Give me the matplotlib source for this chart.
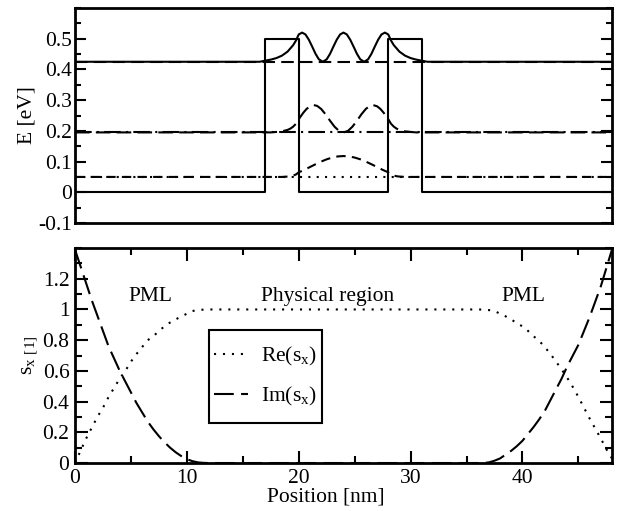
import matplotlib
matplotlib.use("Agg")
import matplotlib.pyplot as plt
from matplotlib.patches import Rectangle
from matplotlib.ticker import MultipleLocator, FormatStrFormatter

plt.rcParams["font.family"] = ["Liberation Serif", "DejaVu Serif"]
plt.rcParams["mathtext.fontset"] = "custom"
plt.rcParams["mathtext.rm"] = "Liberation Serif"
plt.rcParams["axes.unicode_minus"] = False

# --- top panel: double-barrier potential and bound states ---
x_pot = [0, 17, 17, 20, 20, 28, 28, 31, 31, 48]
v_pot = [0, 0, 0.5, 0.5, 0, 0, 0.5, 0.5, 0, 0]

levels = [0.05, 0.195, 0.425]

x_psi1 = [0, 18.5, 19.0, 19.25, 19.5, 19.75, 20.0, 20.5, 21.0, 21.5, 22.0, 22.5, 23.0, 23.5,
          24.0, 24.5, 25.0, 25.5, 26.0, 26.5, 27.0, 27.5, 28.0, 28.25, 28.5, 28.75, 29.0, 29.5, 48]
e_psi1 = [0.05, 0.05, 0.0512, 0.0523, 0.0543, 0.058, 0.0649, 0.0731, 0.0822, 0.0913, 0.0999,
          0.1074, 0.1131, 0.1168, 0.118, 0.1168, 0.1131, 0.1074, 0.0999, 0.0913, 0.0822, 0.0731,
          0.0649, 0.058, 0.0543, 0.0523, 0.0512, 0.05, 0.05]

x_psi2 = [0, 17.5, 18.0, 18.5, 19.0, 19.25, 19.5, 19.75, 20.0, 20.4, 20.7, 21.0, 21.35, 21.65,
          22.0, 22.4, 22.8, 23.2, 23.6, 24.0, 24.4, 24.8, 25.2, 25.6, 26.0, 26.35, 26.65, 27.0,
          27.3, 27.6, 28.0, 28.25, 28.5, 28.75, 29.0, 29.5, 30.0, 30.5, 48]
e_psi2 = [0.195, 0.195, 0.1965, 0.1985, 0.2031, 0.2073, 0.2137, 0.223, 0.238, 0.2586, 0.2714,
          0.2801, 0.284, 0.2812, 0.2715, 0.2538, 0.2329, 0.2136, 0.1999, 0.195, 0.1999, 0.2136,
          0.2329, 0.2538, 0.2715, 0.2812, 0.284, 0.2801, 0.2714, 0.2586, 0.238, 0.223, 0.2137,
          0.2073, 0.2031, 0.1985, 0.1965, 0.195, 0.195]

x_psi3 = [0, 16.5, 17.0, 17.5, 18.0, 18.5, 19.0, 19.5, 19.75, 20.0, 20.3, 20.6, 20.9, 21.2,
          21.5, 21.8, 22.15, 22.5, 22.8, 23.1, 23.4, 23.7, 24.0, 24.3, 24.6, 24.9, 25.2, 25.5,
          25.85, 26.2, 26.5, 26.8, 27.1, 27.4, 27.7, 28.0, 28.25, 28.5, 29.0, 29.5, 30.0, 30.5,
          31.0, 31.5, 48]
e_psi3 = [0.425, 0.425, 0.4285, 0.432, 0.437, 0.445, 0.458, 0.479, 0.494, 0.514, 0.520, 0.514,
          0.497, 0.4745, 0.451, 0.433, 0.425, 0.433, 0.451, 0.4745, 0.497, 0.514, 0.520, 0.514,
          0.497, 0.4745, 0.451, 0.433, 0.425, 0.433, 0.451, 0.4745, 0.497, 0.514, 0.520, 0.514,
          0.494, 0.479, 0.458, 0.445, 0.437, 0.432, 0.4285, 0.425, 0.425]

# --- bottom panel: PML stretching factor ---
x_re = [0.0, 0.5, 1.0, 1.5, 2.0, 2.5, 3.0, 3.5, 4.0, 4.5, 5.0, 5.5, 6.0, 6.5, 7.0, 7.5, 8.0,
        8.5, 9.0, 9.5, 10.0, 10.5, 11.0, 11.5, 12.0,
        36.0, 36.5, 37.0, 37.5, 38.0, 38.5, 39.0, 39.5, 40.0, 40.5, 41.0, 41.5, 42.0, 42.5,
        43.0, 43.5, 44.0, 44.5, 45.0, 45.5, 46.0, 46.5, 47.0, 47.5, 48.0]
re_sx = [0.0, 0.08, 0.16, 0.23, 0.30, 0.36, 0.43, 0.49, 0.55, 0.60, 0.66, 0.71, 0.755, 0.80,
         0.825, 0.86, 0.89, 0.915, 0.935, 0.955, 0.972, 0.99, 0.996, 0.999, 1.0,
         1.0, 0.999, 0.996, 0.99, 0.972, 0.955, 0.935, 0.91, 0.89, 0.86, 0.825, 0.795, 0.755,
         0.71, 0.66, 0.61, 0.555, 0.495, 0.43, 0.36, 0.29, 0.225, 0.16, 0.09, 0.03]

x_im = [0.0, 0.5, 1.0, 1.5, 2.0, 2.5, 3.0, 3.5, 4.0, 4.5, 5.0, 5.5, 6.0, 6.5, 7.0, 7.5, 8.0,
        8.5, 9.0, 9.5, 10.0, 10.5, 11.0, 11.5, 12.0,
        36.0, 36.5, 37.0, 37.5, 38.0, 38.5, 39.0, 39.5, 40.0, 40.5, 41.0, 41.5, 42.0, 42.5,
        43.0, 43.5, 44.0, 44.5, 45.0, 45.5, 46.0, 46.5, 47.0, 47.5, 48.0]
im_sx = [1.39, 1.28, 1.17, 1.06, 0.96, 0.86, 0.76, 0.68, 0.60, 0.53, 0.46, 0.39, 0.33, 0.27,
         0.22, 0.175, 0.135, 0.10, 0.07, 0.045, 0.025, 0.012, 0.004, 0.001, 0.0,
         0.0, 0.001, 0.004, 0.015, 0.03, 0.055, 0.08, 0.11, 0.145, 0.19, 0.235, 0.285, 0.34,
         0.41, 0.48, 0.55, 0.63, 0.70, 0.77, 0.86, 0.95, 1.05, 1.15, 1.27, 1.39]

region_labels = ["PML", "Physical region", "PML"]
region_x = [6.7, 22.6, 40.1]
region_y = 1.085

FS = 15.5
LW = 1.5

fig = plt.figure(figsize=(6.26, 5.11), dpi=100)
ax1 = fig.add_axes([0.1198, 0.5636, 0.8578, 0.4207])
ax2 = fig.add_axes([0.1198, 0.0939, 0.8578, 0.4207])

# top panel
ax1.plot(x_pot, v_pot, color="black", lw=LW)
ax1.plot([0, 48], [levels[0]] * 2, color="black", lw=LW, ls=(0, (1, 3)))
ax1.plot([0, 48], [levels[1]] * 2, color="black", lw=LW, ls=(0, (8, 2.5, 1, 2.5)))
ax1.plot([0, 48], [levels[2]] * 2, color="black", lw=LW, ls=(0, (6, 3)))
ax1.plot(x_psi1, e_psi1, color="black", lw=LW, ls=(0, (4.5, 3)))
ax1.plot(x_psi2, e_psi2, color="black", lw=LW, ls=(0, (7, 3)))
ax1.plot(x_psi3, e_psi3, color="black", lw=LW)

ax1.set_xlim(0, 48)
ax1.set_ylim(-0.1, 0.6)
ax1.set_yticks([-0.1, 0, 0.1, 0.2, 0.3, 0.4, 0.5])
ax1.yaxis.set_minor_locator(MultipleLocator(0.05))
ax1.yaxis.set_major_formatter(FormatStrFormatter("%g"))
ax1.tick_params(axis="y", which="both", direction="in", left=True, right=True,
                labelsize=FS, pad=2, width=1.5)
ax1.tick_params(axis="y", which="major", length=8)
ax1.tick_params(axis="y", which="minor", length=4.5)
ax1.tick_params(axis="x", which="both", bottom=False, top=False, labelbottom=False)
ax1.set_ylabel("E [eV]", fontsize=FS)
ax1.yaxis.set_label_coords(-0.072, 0.5)

# bottom panel
ax2.plot(x_re, re_sx, color="black", lw=LW, ls=(0, (1, 3.3)), label=r"Re(s$_\mathregular{x}$)")
ax2.plot(x_im, im_sx, color="black", lw=LW, ls=(0, (9.5, 3.5)), label=r"Im(s$_\mathregular{x}$)")
for txt, xt in zip(region_labels, region_x):
    ax2.text(xt, region_y, txt, fontsize=FS, ha="center", va="center")

ax2.set_xlim(0, 48)
ax2.set_ylim(0, 1.4)
ax2.set_xticks([0, 10, 20, 30, 40])
ax2.xaxis.set_minor_locator(MultipleLocator(5))
ax2.set_yticks([0, 0.2, 0.4, 0.6, 0.8, 1.0, 1.2])
ax2.yaxis.set_minor_locator(MultipleLocator(0.1))
ax2.yaxis.set_major_formatter(FormatStrFormatter("%g"))
ax2.tick_params(which="both", direction="in", left=True, right=True, top=True, bottom=True,
                labelsize=FS, pad=4, width=1.5)
ax2.tick_params(which="major", length=9)
ax2.tick_params(which="minor", length=5)
ax2.set_ylabel(r"s$_\mathregular{x\ [1]}$", fontsize=FS)
ax2.yaxis.set_label_coords(-0.066, 0.5)
ax2.set_xlabel("Position [nm]", fontsize=FS)
ax2.xaxis.set_label_coords(0.467, -0.115)

ax2.add_patch(Rectangle((0.2495, 0.186), 0.21, 0.433, transform=ax2.transAxes,
                        fill=False, ec="black", lw=1.5, zorder=3))
ax2.legend(loc="center", bbox_to_anchor=(0.3545, 0.4025), frameon=False, fontsize=FS,
           handlelength=1.6, handletextpad=0.6, labelspacing=0.75)

for ax in (ax1, ax2):
    for sp in ax.spines.values():
        sp.set_linewidth(2.0)

fig.savefig("out.png", dpi=100)
